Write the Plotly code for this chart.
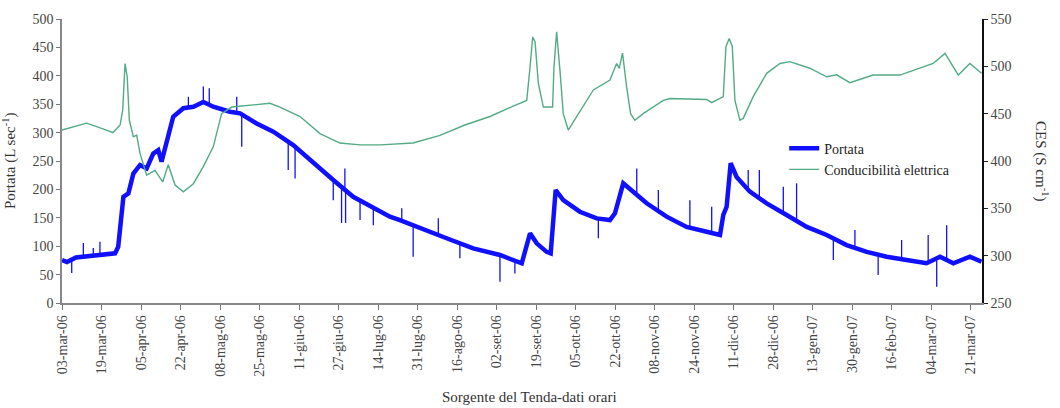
import pandas as pd
import plotly.graph_objects as go

# ---- data (days since 03-mar-2006 00:00) ----
giorni_portata = [0, 2.1, 5.9, 9.0, 16.0, 22.4, 23.7, 25.2, 25.9, 28.0, 30.1, 32.9, 35.7, 38.5, 40.6,
                  42.0, 44.2, 46.9, 51.2, 55.4, 59.6, 63.8, 70.8, 75.1, 82.1, 89.1, 97.5, 106.0,
                  114.4, 122.8, 131.3, 138.3, 142.5, 151.0, 162.2, 173.4, 184.7, 193.9, 195.3,
                  197.4, 200.2, 204.4, 206.1, 207.2, 208.2, 211.4, 218.4, 225.5, 231.1, 233.2,
                  234.6, 236.7, 240.9, 246.6, 255.0, 263.4, 271.9, 277.5, 278.9, 280.3, 282.0,
                  284.5, 290.1, 297.2, 305.6, 314.1, 322.5, 330.9, 339.4, 347.8, 356.2, 364.6,
                  370.3, 375.9, 382.9, 387.8]
portata = [75.7, 72, 80, 81.5, 84.5, 87.5, 99, 152, 187, 193, 228, 243, 237, 263, 269,
           249, 287, 328, 343, 345.6, 354, 345.6, 336.7, 334, 316, 301.5, 278, 246,
           216.5, 187, 166.7, 152, 146, 131.5, 114, 96, 84.5, 70, 93,
           122.7, 105, 90, 87.5, 140, 199, 181, 160.7, 149, 146, 158,
           181, 210.7, 196, 175.5, 152, 134, 125.5, 119.7, 155, 169.5, 246,
           222, 196, 175.5, 155, 134, 119.7, 102, 90, 81.5, 75.7, 70,
           81.5, 70, 81.5, 72.7]

# isolated spikes of the hourly discharge record: day, band level, spike value
giorni_picchi = [4.1, 9.0, 13.2, 16.0, 53.3, 59.6, 62.1, 73.7, 75.8, 95.4, 98.3, 114.4, 117.9,
                 119.3, 119.6, 125.7, 131.3, 143.3, 148.1, 158.7, 167.8, 184.7, 191.0, 226.2,
                 242.4, 251.5, 264.8, 274.0, 289.4, 294.1, 304.2, 309.8, 325.3, 334.4, 344.2,
                 354.1, 365.3, 368.9, 373.1]
picchi_base = [75, 80, 82, 84, 344, 352, 350, 335, 333, 282, 276, 216, 205,
               200, 200, 180, 167, 145, 140, 118, 105, 84, 75, 148,
               193, 158, 132, 124, 198, 183, 158, 148, 114, 96, 85,
               77, 72, 75, 78]
picchi_valore = [53, 105.6, 96.8, 108, 363, 381, 378, 363, 275, 234, 219, 181, 141,
                 237, 141, 146, 137, 166.7, 81.5, 149, 78.6, 37.5, 52, 114,
                 237, 199, 181, 169.5, 234, 234, 204.7, 210.7, 75.7, 128.5, 49.3,
                 111, 119.7, 28.7, 137]

giorni_ces = [0, 10.4, 17.3, 21.5, 24.5, 25.6, 26.6, 27.5, 28.4, 30.1, 31.5, 32.9, 35.7, 39.2,
              42.5, 44.8, 47.7, 51.2, 55.4, 59.6, 63.8, 67.3, 71.6, 79.3, 87.7, 91.9, 100.4,
              108.8, 117.2, 125.7, 134.1, 148.1, 159.4, 169.9, 180.5, 190.3, 196.0, 197.4,
              198.5, 199.5, 200.9, 203.0, 206.9, 207.5, 208.6, 210.0, 211.4, 213.5, 217.1,
              224.1, 231.1, 233.9, 235.0, 236.4, 238.1, 239.8, 241.6, 245.1, 253.6, 256.4,
              271.9, 274.0, 278.9, 280.0, 281.4, 282.7, 283.8, 285.9, 287.3, 291.5, 297.2,
              302.8, 307.0, 315.4, 322.5, 326.7, 332.3, 342.1, 353.4, 367.4, 372.4, 378.0,
              382.9, 387.8]
ces = [432.7, 440, 434, 430, 438, 453.8, 503, 489, 443, 425.6, 427.4, 408, 385, 390,
       378, 396, 374.6, 367.5, 376, 394, 415, 450, 457, 459, 461, 457, 447,
       429, 419, 417, 417, 419, 427, 438, 447, 458, 464, 499.6,
       531, 526, 482, 457, 457, 499.6, 536.6, 496, 450, 432.7, 446.7,
       475, 485.5, 503, 497.8, 514, 478.5, 450, 443, 450, 464, 466,
       465, 461.6, 468, 520.7, 529.5, 520.7, 464, 443, 445, 468, 492.6,
       503, 505, 498, 489, 491, 482.7, 490.8, 490.8, 503, 513.7, 490.8,
       503, 492.6]

etichette_x = ["03-mar-06", "19-mar-06", "05-apr-06", "22-apr-06", "08-mag-06", "25-mag-06",
               "11-giu-06", "27-giu-06", "14-lug-06", "31-lug-06", "16-ago-06", "02-set-06",
               "19-set-06", "05-ott-06", "22-ott-06", "08-nov-06", "24-nov-06", "11-dic-06",
               "28-dic-06", "13-gen-07", "30-gen-07", "16-feb-07", "04-mar-07", "21-mar-07"]

inizio = pd.Timestamp("2006-03-03 00:00")
def to_date(days):
    return [inizio + pd.Timedelta(days=d) for d in days]

x_port = to_date(giorni_portata)
x_ces = to_date(giorni_ces)

# spike segments
sx, sy = [], []
for d, b, v in zip(giorni_picchi, picchi_base, picchi_valore):
    t = inizio + pd.Timedelta(days=d)
    sx += [t, t, None]
    sy += [b, v, None]

tickvals = [inizio + pd.Timedelta(hours=400 * k) for k in range(len(etichette_x))]

BLUE = "#1010ff"
GREEN = "#52ab85"
FONT = "Liberation Serif"

fig = go.Figure()
fig.add_trace(go.Scatter(x=sx, y=sy, mode="lines", line=dict(color=BLUE, width=1.3),
                         showlegend=False, hoverinfo="skip"))
fig.add_trace(go.Scatter(x=x_port, y=portata, mode="lines", name="Portata",
                         line=dict(color=BLUE, width=4.5)))
fig.add_trace(go.Scatter(x=x_ces, y=ces, mode="lines", name="Conducibilità elettrica",
                         line=dict(color=GREEN, width=1.4), yaxis="y2"))

tickfont = dict(family=FONT, size=14, color="#444")
fig.update_layout(
    width=1060, height=408,
    margin=dict(l=62, r=78, t=19, b=105),
    paper_bgcolor="white", plot_bgcolor="white",
    font=dict(family=FONT, size=14, color="#333"),
    xaxis=dict(type="date", range=[inizio, inizio + pd.Timedelta(days=388)],
               tickmode="array", tickvals=tickvals, ticktext=etichette_x, tickangle=-90,
               ticks="outside", ticklen=5, tickcolor="#777", showgrid=False, zeroline=False,
               showline=True, linecolor="#888", linewidth=1.5, tickfont=tickfont),
    yaxis=dict(range=[0, 500], dtick=50, ticks="outside", ticklen=4, tickcolor="#777",
               showgrid=False, zeroline=False, showline=True, linecolor="#888", linewidth=1.5,
               tickfont=tickfont),
    yaxis2=dict(range=[250, 550], dtick=50, overlaying="y", side="right", ticks="outside",
                ticklen=4, tickcolor="#222", showgrid=False, zeroline=False, showline=True,
                linecolor="#111", linewidth=1.5, tickfont=tickfont),
    legend=dict(x=0.785, y=0.6, xanchor="left", yanchor="top", bgcolor="rgba(0,0,0,0)",
                font=dict(family=FONT, size=14, color="#222"), tracegroupgap=0,
                itemwidth=30),
    showlegend=True,
    annotations=[
        dict(text="Sorgente del Tenda-dati orari", xref="paper", yref="paper",
             x=0.508, y=0, yshift=-94, showarrow=False, xanchor="center", yanchor="middle",
             font=dict(family=FONT, size=15, color="#333")),
        dict(text="Portata (L sec<sup>-1</sup>)", xref="paper", yref="paper",
             x=0, xshift=-53, y=0.5, showarrow=False, textangle=-90,
             xanchor="center", yanchor="middle", font=dict(family=FONT, size=15, color="#333")),
        dict(text="CES (S cm<sup>-1</sup>)", xref="paper", yref="paper",
             x=1, xshift=60, y=0.5, showarrow=False, textangle=90,
             xanchor="center", yanchor="middle", font=dict(family=FONT, size=15, color="#333")),
    ],
)

fig.write_html("out.html")
